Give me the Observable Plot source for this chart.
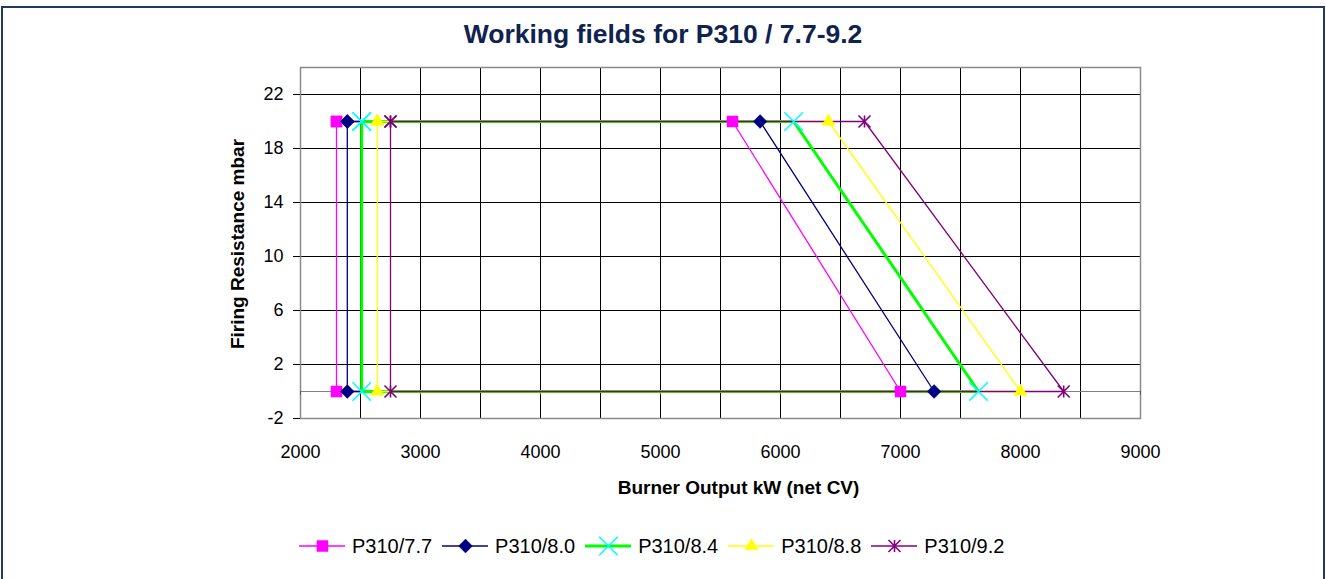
<!DOCTYPE html>
<html>
<head>
<meta charset="utf-8">
<script src="https://cdn.jsdelivr.net/npm/d3@7"></script>
<script src="https://cdn.jsdelivr.net/npm/@observablehq/plot@0.6"></script>
<style>
  html, body { margin: 0; padding: 0; background: #fff; }
  body { width: 1326px; height: 579px; overflow: hidden; position: relative;
         font-family: Arial, "Liberation Sans", sans-serif; color: #000; }
  #border { position: absolute; left: 1px; top: 6px; width: 1324px; height: 640px;
            border: 2px solid #1f3864; box-sizing: border-box; pointer-events: none; }
  #title { height: 55px; box-sizing: border-box; padding-top: 19px; line-height: 30px;
           text-align: center; font-size: 26.5px; font-weight: bold; color: #0f2350; }
  #chart svg { display: block; }
  #legend { position: relative; height: 64px; }
  #legend .row { position: absolute; left: 299px; top: 21px; display: flex; align-items: center; height: 20px; }
  #legend .item { display: flex; align-items: center; margin-right: 10px; }
  #legend .item span { font-size: 20px; line-height: 20px; margin-left: 6px; }
</style>
</head>
<body>
<div id="border"></div>
<div id="title">Working fields for P310 / 7.7-9.2</div>
<div id="chart"></div>
<div id="legend"><div class="row"></div></div>
<script>
// ---- data ----
const seriesNames = ["P310/7.7", "P310/8.0", "P310/8.4", "P310/8.8", "P310/9.2"];
const minOutput   = [2300, 2390, 2510, 2640, 2750];   // left edge (kW) at 0 and 20 mbar
const maxOutputTop = [5600, 5830, 6110, 6400, 6700];  // right edge at 20 mbar
const maxOutputZero = [7000, 7280, 7650, 8000, 8360]; // right edge at 0 mbar
const resistanceTop = 20;
const resistanceBottom = 0;
const xTicks = [2000, 3000, 4000, 5000, 6000, 7000, 8000, 9000];
const yTicks = [-2, 2, 6, 10, 14, 18, 22];
const xGrid = [2500, 3000, 3500, 4000, 4500, 5000, 5500, 6000, 6500, 7000, 7500, 8000, 8500];
const yGrid = [2, 6, 10, 14, 18, 22];

// ---- styles ----
const colors = ["#FF00FF", "#000080", "#00FF00", "#FFFF00", "#800080"];
const markerColors = ["#FF00FF", "#000080", "#00FFFF", "#FFFF00", "#800080"];
const lineWidths = [1.3, 1.3, 3, 1.3, 1.3];
const starSymbol = {
  draw(ctx, size) {
    const h = Math.sqrt(size / Math.PI);
    ctx.moveTo(-h, -h); ctx.lineTo(h, h);
    ctx.moveTo(-h, h); ctx.lineTo(h, -h);
    ctx.moveTo(0, -h); ctx.lineTo(0, h);
  }
};
const markers = [
  {symbol: "square", r: 6.2, filled: true},
  {symbol: "diamond2", r: 6.2, filled: true},
  {symbol: "times", r: 8.5, filled: false},
  {symbol: "triangle", r: 4.8, filled: true},
  {symbol: starSymbol, r: 6, filled: false}
];

const series = seriesNames.map((name, i) => [
  {name, x: minOutput[i], y: resistanceTop},
  {name, x: maxOutputTop[i], y: resistanceTop},
  {name, x: maxOutputZero[i], y: resistanceBottom},
  {name, x: minOutput[i], y: resistanceBottom},
  {name, x: minOutput[i], y: resistanceTop}
]);

const seriesMarks = [];
series.forEach((pts, i) => {
  seriesMarks.push(Plot.line(pts, {x: "x", y: "y", stroke: colors[i], strokeWidth: lineWidths[i], strokeLinejoin: "miter"}));
});
series.forEach((pts, i) => {
  const m = markers[i];
  seriesMarks.push(Plot.dot(pts, {
    x: "x", y: "y", symbol: m.symbol, r: m.r,
    fill: m.filled ? markerColors[i] : "none",
    stroke: markerColors[i], strokeWidth: m.filled ? 0.5 : 1.6
  }));
});

const chart = Plot.plot({
  width: 1326,
  height: 460,
  marginLeft: 300,
  marginRight: 186,
  marginTop: 12,
  marginBottom: 97,
  style: {fontFamily: 'Arial, "Liberation Sans", sans-serif', fontSize: "18px", color: "#000", background: "transparent", overflow: "visible"},
  x: {domain: [2000, 9000]},
  y: {domain: [-2, 24]},
  marks: [
    Plot.ruleX(xGrid, {stroke: "#000", strokeWidth: 1}),
    Plot.ruleY(yGrid, {stroke: "#000", strokeWidth: 1}),
    Plot.frame({stroke: "#8a8a8a", strokeWidth: 1.5}),
    Plot.ruleY([0], {stroke: "#808080", strokeWidth: 1}),
    Plot.ruleX(xTicks, {y1: 0, y2: -0.28, stroke: "#555"}),
    Plot.axisX({ticks: xTicks, tickSize: 0, tickPadding: 27, tickFormat: d => String(d), label: null, fontSize: 18}),
    Plot.axisY({ticks: yTicks, tickSize: 7, tickPadding: 10, tickFormat: d => String(d), label: null, fontSize: 18}),
    ...seriesMarks,
    Plot.text(["Burner Output kW (net CV)"], {text: d => d, frameAnchor: "bottom", lineAnchor: "middle", textAnchor: "middle", dx: 18, dy: 69.5, fontWeight: "bold", fontSize: 19}),
    Plot.text(["Firing Resistance mbar"], {text: d => d, frameAnchor: "left", lineAnchor: "middle", textAnchor: "middle", rotate: -90, dx: -63, dy: 1, fontWeight: "bold", fontSize: 19})
  ]
});
document.getElementById("chart").appendChild(chart);

// ---- legend ----
const row = document.querySelector("#legend .row");
seriesNames.forEach((name, i) => {
  const item = document.createElement("div");
  item.className = "item";
  const svg = d3.create("svg").attr("width", 47).attr("height", 20);
  svg.append("line").attr("x1", 0).attr("x2", 46).attr("y1", 10).attr("y2", 10)
    .attr("stroke", colors[i]).attr("stroke-width", lineWidths[i]);
  const m = markers[i];
  const symType = typeof m.symbol === "string"
    ? {square: d3.symbolSquare, diamond2: d3.symbolDiamond2, times: d3.symbolTimes, triangle: d3.symbolTriangle}[m.symbol]
    : m.symbol;
  svg.append("path").attr("transform", "translate(23.5,10)")
    .attr("d", d3.symbol(symType, Math.PI * m.r * m.r)())
    .attr("fill", m.filled ? markerColors[i] : "none")
    .attr("stroke", markerColors[i]).attr("stroke-width", m.filled ? 0.5 : 1.6);
  item.appendChild(svg.node());
  const span = document.createElement("span");
  span.textContent = name;
  item.appendChild(span);
  row.appendChild(item);
});
</script>
</body>
</html>
